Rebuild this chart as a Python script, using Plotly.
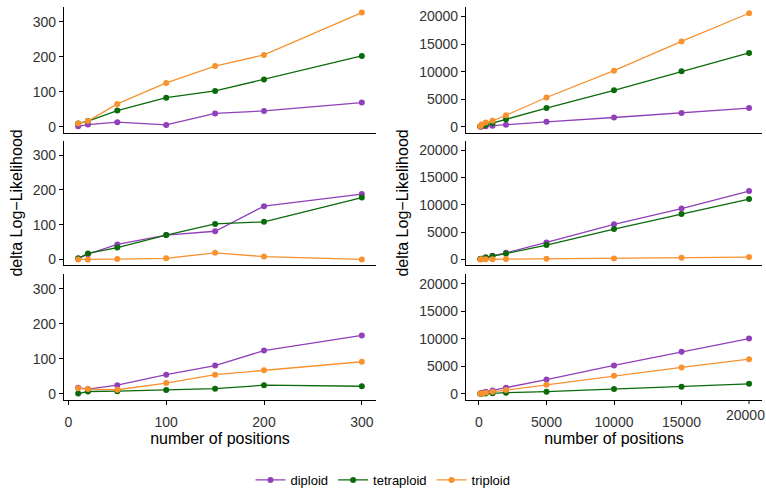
import plotly.graph_objects as go

# ---- data ----
x_left = [10, 20, 50, 100, 150, 200, 300]
x_right = [100, 200, 500, 1000, 2000, 5000, 10000, 15000, 20000]

# left column (rows top, middle, bottom)
l1_diploid = [1, 6, 13, 5, 38, 45, 69]
l1_tetraploid = [9, 16, 46, 83, 102, 135, 202]
l1_triploid = [9, 16, 65, 125, 173, 205, 326]

l2_diploid = [2, 15, 43, 70, 81, 153, 188]
l2_tetraploid = [3, 17, 34, 70, 102, 108, 178]
l2_triploid = [0, 0, 1, 3, 19, 8, 0]

l3_diploid = [18, 14, 25, 55, 81, 124, 167]
l3_tetraploid = [1, 7, 8, 11, 15, 25, 22]
l3_triploid = [16, 14, 12, 31, 55, 68, 92]

# right column
r1_diploid = [10, 30, 90, 180, 360, 890, 1670, 2500, 3390]
r1_tetraploid = [60, 150, 350, 650, 1370, 3390, 6600, 10060, 13390]
r1_triploid = [100, 400, 770, 1070, 2080, 5300, 10180, 15480, 20600]

r2_diploid = [60, 130, 330, 650, 1200, 3100, 6430, 9300, 12500]
r2_tetraploid = [60, 130, 330, 600, 1070, 2630, 5550, 8300, 11050]
r2_triploid = [0, 10, 20, 30, 60, 120, 180, 300, 420]

r3_diploid = [100, 200, 400, 650, 1130, 2620, 5180, 7680, 10060]
r3_tetraploid = [20, 50, 80, 120, 240, 420, 890, 1310, 1850]
r3_triploid = [50, 100, 230, 400, 710, 1670, 3330, 4820, 6310]

series_names = ["diploid", "tetraploid", "triploid"]
colors = {"diploid": "#9040B8", "tetraploid": "#0B6B0B", "triploid": "#F7922F"}

left_y_ticks = [0, 100, 200, 300]
right_y_ticks = [0, 5000, 10000, 15000, 20000]
left_x_ticks = [0, 100, 200, 300]
right_x_ticks = [0, 5000, 10000, 15000, 20000]

panels = [
    (1, x_left, [l1_diploid, l1_tetraploid, l1_triploid]),
    (2, x_right, [r1_diploid, r1_tetraploid, r1_triploid]),
    (3, x_left, [l2_diploid, l2_tetraploid, l2_triploid]),
    (4, x_right, [r2_diploid, r2_tetraploid, r2_triploid]),
    (5, x_left, [l3_diploid, l3_tetraploid, l3_triploid]),
    (6, x_right, [r3_diploid, r3_tetraploid, r3_triploid]),
]

W, H = 766, 495
fig = go.Figure()

for idx, xs, ys_list in panels:
    suffix = "" if idx == 1 else str(idx)
    for name, ys in zip(series_names, ys_list):
        fig.add_trace(go.Scatter(
            x=xs, y=ys, mode="lines+markers", name=name,
            line=dict(color=colors[name], width=1.3),
            marker=dict(color=colors[name], size=6),
            xaxis="x" + suffix, yaxis="y" + suffix,
            showlegend=(idx == 1), legendgroup=name,
        ))

col_dom = {0: [64 / W, 376 / W], 1: [466 / W, 762 / W]}
row_px = [(7, 134), (142, 268), (277, 404)]
row_dom = [[1 - b / H, 1 - t / H] for t, b in row_px]

FONT = "Liberation Sans, Arial, sans-serif"
tickfont = dict(family=FONT, size=14, color="#333333")
titlefont = dict(family=FONT, size=16, color="black")
layout = {}
for i in range(6):
    r, c = divmod(i, 2)
    n = i + 1
    suf = "" if n == 1 else str(n)
    bottom = (r == 2)
    if c == 0:
        xr, yr, xt, yt = [-4.5, 314.5], [-17, 342], left_x_ticks, left_y_ticks
    else:
        xr, yr, xt, yt = [-960, 20960], [-1080, 21750], right_x_ticks, right_y_ticks
    # the right-most bottom tick label would run off the page; it is added
    # as an annotation below, nudged left so it stays visible
    shown_xt = xt if not (bottom and c == 1) else xt[:-1]
    layout["xaxis" + suf] = dict(
        domain=col_dom[c], anchor="y" + suf, range=xr, automargin=False,
        showgrid=False, zeroline=False, showline=True, linecolor="black", linewidth=1.2,
        ticks="outside" if bottom else "", ticklen=4, tickcolor="black",
        tickvals=shown_xt, ticktext=[str(v) for v in shown_xt],
        showticklabels=bottom, tickfont=tickfont, ticklabelstandoff=5,
        title=dict(text="number of positions" if bottom else "", font=titlefont, standoff=1),
    )
    layout["yaxis" + suf] = dict(
        domain=row_dom[r], anchor="x" + suf, range=yr, automargin=False,
        showgrid=False, zeroline=False, showline=True, linecolor="black", linewidth=1.2,
        ticks="outside", ticklen=4, tickcolor="black",
        tickvals=yt, ticktext=[str(v) for v in yt], tickfont=tickfont,
        title=dict(text="delta Log\u2212Likelihood" if (r == 1) else "", font=titlefont, standoff=6),
    )

fig.update_layout(
    width=W, height=H,
    margin=dict(l=0, r=0, t=0, b=0),
    plot_bgcolor="white", paper_bgcolor="white",
    font=dict(family=FONT),
    legend=dict(orientation="h", x=0.5, xanchor="center", y=0.02, yanchor="middle",
                font=dict(family=FONT, size=13, color="black"), itemwidth=30,
                traceorder="normal"),
    **layout,
)

# last bottom-right tick label + its tick mark
fig.add_annotation(x=right_x_ticks[-1], y=1 - 419 / H, xref="x6", yref="paper",
                   text=str(right_x_ticks[-1]), showarrow=False, font=tickfont,
                   xanchor="center", yanchor="middle", xshift=-4)
fig.add_shape(type="line", xref="x6", yref="paper",
              x0=right_x_ticks[-1], x1=right_x_ticks[-1],
              y0=1 - 404 / H, y1=1 - 408 / H, line=dict(color="black", width=1))

fig.write_html("out.html", config={"displayModeBar": False},
               post_script="document.body.style.margin='0';document.body.style.overflow='hidden';")
